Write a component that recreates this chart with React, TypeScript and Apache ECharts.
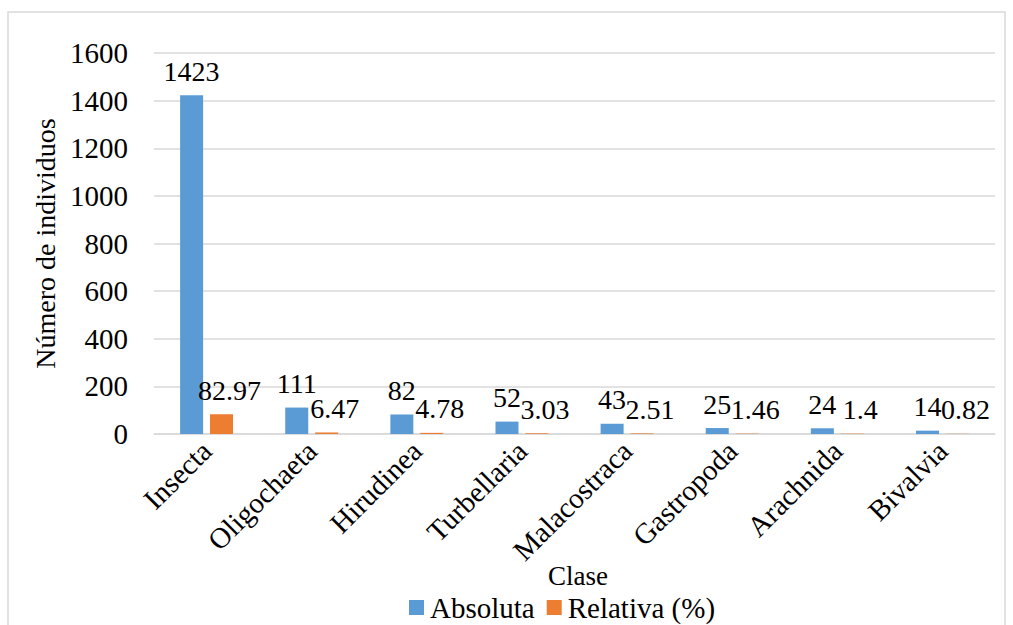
import React, { useEffect, useRef } from "react";
import * as echarts from "echarts";

const categories = ["Insecta", "Oligochaeta", "Hirudinea", "Turbellaria", "Malacostraca", "Gastropoda", "Arachnida", "Bivalvia"];
const absoluta = [1423, 111, 82, 52, 43, 25, 24, 14];
const relativa = [82.97, 6.47, 4.78, 3.03, 2.51, 1.46, 1.4, 0.82];

const FONT = "Liberation Serif";
const FS = 29;

export default function App() {
  const ref = useRef<HTMLDivElement>(null);
  useEffect(() => {
    document.body.style.margin = "0";
    const chart = echarts.init(ref.current!, null, { renderer: "svg" });
    chart.setOption({
      animation: false,
      textStyle: { fontFamily: FONT },
      grid: { left: 154, right: 18, top: 53, bottom: 191, containLabel: false },
      graphic: [
        {
          type: "rect",
          shape: { x: 8, y: 12, width: 997, height: 630 },
          style: { fill: "none", stroke: "#d9d9d9", lineWidth: 1.5 },
          silent: true,
        },
        {
          type: "text",
          x: 578,
          y: 576,
          style: { text: "Clase", fontSize: 27, lineHeight: 20, fontFamily: FONT, fill: "#000", align: "center", verticalAlign: "middle" },
        },
      ],
      legend: {
        bottom: -2,
        left: 404,
        itemWidth: 15,
        itemHeight: 15,
        itemGap: 12,
        icon: "rect",
        textStyle: { fontFamily: FONT, fontSize: FS, lineHeight: 22, color: "#000", padding: [0, 0, 0, 1] },
        data: ["Absoluta", "Relativa (%)"],
      },
      xAxis: {
        type: "category",
        data: categories,
        axisLine: { lineStyle: { color: "#d9d9d9", width: 1.5 } },
        axisTick: { show: false },
        axisLabel: { rotate: 45, interval: 0, fontSize: FS, color: "#000", fontFamily: FONT, margin: 12 },
      },
      yAxis: {
        type: "value",
        min: 0,
        max: 1600,
        interval: 200,
        name: "Número de individuos",
        nameLocation: "middle",
        nameGap: 95,
        nameTextStyle: { fontSize: 28, color: "#000", fontFamily: FONT },
        axisLabel: { fontSize: 29, color: "#000", fontFamily: FONT, margin: 26, formatter: (v: number) => String(v) },
        splitLine: { lineStyle: { color: "#d9d9d9", width: 1.5 } },
        axisLine: { show: false },
        axisTick: { show: false },
      },
      series: [
        {
          name: "Absoluta",
          type: "bar",
          data: absoluta,
          barWidth: 23,
          barGap: "30%",
          itemStyle: { color: "#5B9BD5" },
          label: { show: true, position: "top", distance: 10, fontSize: 28, color: "#000", fontFamily: FONT },
        },
        {
          name: "Relativa (%)",
          type: "bar",
          data: relativa,
          barWidth: 23,
          itemStyle: { color: "#ED7D31" },
          label: { show: true, position: "top", distance: 10, offset: [8, 0], fontSize: 28, color: "#000", fontFamily: FONT },
        },
      ],
    });
    return () => chart.dispose();
  }, []);
  return <div ref={ref} style={{ width: 1013, height: 625 }} />;
}
